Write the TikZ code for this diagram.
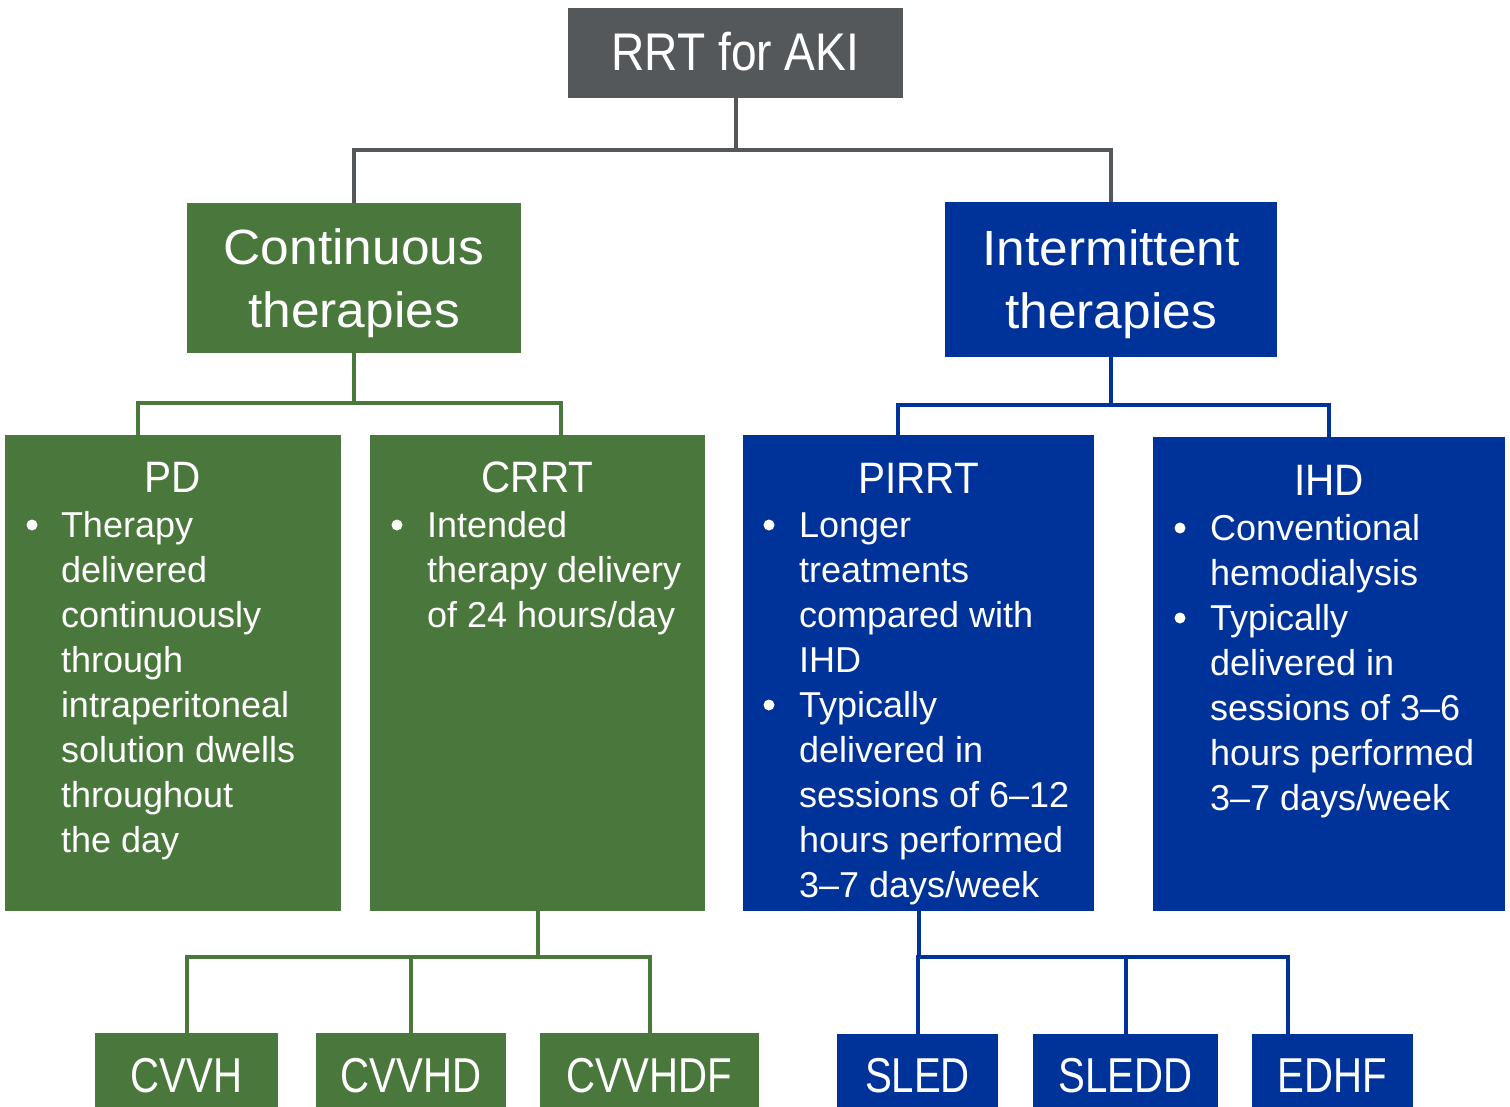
\documentclass[tikz,border=0pt]{standalone}
\usepackage{fontspec}
\setmainfont{Liberation Sans}
\newfontfamily\hdfont[FakeStretch=0.92]{Liberation Sans}
\newfontfamily\topfont[FakeStretch=0.87]{Liberation Sans}
\newfontfamily\grpfont[FakeStretch=1.04]{Liberation Sans}
\newfontfamily\leaffont[FakeStretch=0.82]{Liberation Sans}
\newcommand\stacklines[1]{\begin{tabular}[t]{@{}l@{}}#1\end{tabular}}
\newcommand\stackcenter[1]{\begin{tabular}[t]{@{}c@{}}#1\end{tabular}}
\definecolor{rrtgray}{HTML}{55585B}
\definecolor{rrtgreen}{HTML}{4A773C}
\definecolor{rrtblue}{HTML}{003399}

\begin{document}
\begin{tikzpicture}[x=1pt,y=-1pt,
  box/.style={rectangle, draw=none, inner sep=0pt, outer sep=0pt, anchor=north west},
  graybox/.style={box, fill=rrtgray},
  greenbox/.style={box, fill=rrtgreen},
  bluebox/.style={box, fill=rrtblue},
  wtext/.style={text=white, inner sep=0pt, outer sep=0pt},
  toptext/.style={wtext, anchor=base, font=\topfont\fontsize{53}{60}\selectfont},
  grptext/.style={wtext, anchor=base, font=\grpfont\fontsize{49.5}{63}\selectfont},
  headtext/.style={wtext, anchor=base, font=\hdfont\fontsize{44}{50}\selectfont},
  bodytext/.style={wtext, anchor=base west, font=\fontsize{36}{45}\selectfont},
  leaftext/.style={wtext, anchor=base, font=\leaffont\fontsize{49}{56}\selectfont},
  dot/.style={circle, fill=white, draw=none, minimum size=11pt, inner sep=0pt},
  link/.style={line width=4pt},
  graylink/.style={link, draw=rrtgray},
  greenlink/.style={link, draw=rrtgreen},
  bluelink/.style={link, draw=rrtblue}]

\fill[white] (0,0) rectangle (1510,1107);
\useasboundingbox (0,0) rectangle (1510,1107);

% root and the two families of therapy
\node[graybox, minimum width=335pt, minimum height=90pt] (top) at (568,8) {};
\node[greenbox, minimum width=334pt, minimum height=150pt] (cont) at (187,203) {};
\node[bluebox, minimum width=332pt, minimum height=155pt] (inter) at (945,202) {};

% modalities
\node[greenbox, minimum width=336pt, minimum height=476pt] (pd) at (5,435) {};
\node[greenbox, minimum width=335pt, minimum height=476pt] (crrt) at (370,435) {};
\node[bluebox, minimum width=351pt, minimum height=476pt] (pirrt) at (743,435) {};
\node[bluebox, minimum width=352pt, minimum height=474pt] (ihd) at (1153,437) {};

% variants
\node[greenbox, minimum width=183pt, minimum height=74pt] (cvvh) at (95,1033) {};
\node[greenbox, minimum width=190pt, minimum height=74pt] (cvvhd) at (316,1033) {};
\node[greenbox, minimum width=219pt, minimum height=74pt] (cvvhdf) at (540,1033) {};
\node[bluebox, minimum width=161pt, minimum height=73pt] (sled) at (837,1034) {};
\node[bluebox, minimum width=185pt, minimum height=73pt] (sledd) at (1033,1034) {};
\node[bluebox, minimum width=161pt, minimum height=73pt] (edhf) at (1252,1034) {};

% tree connectors
\draw[graylink] (top.south) -- ++(0,52) coordinate (jt);
\draw[graylink] (jt) -| (cont.north);
\draw[graylink] (jt) -| (inter.north);

\draw[greenlink] (cont.south) -- ++(0,50) coordinate (jc);
\draw[greenlink] (jc) -| ([xshift=-35pt]pd.north);
\draw[greenlink] (jc) -| ([xshift=23.5pt]crrt.north);

\draw[bluelink] (inter.south) -- ++(0,48) coordinate (ji);
\draw[bluelink] (ji) -| ([xshift=-20.5pt]pirrt.north);
\draw[bluelink] (ji) -| (ihd.north);

\draw[greenlink] (crrt.south) -- ++(0,46) coordinate (jr);
\draw[greenlink] (jr) -| (cvvh.north);
\draw[greenlink] (jr) -| (cvvhd.north);
\draw[greenlink] (jr) -| (cvvhdf.north);

\draw[bluelink] (pirrt.south) -- ++(0,46) coordinate (jp);
\draw[bluelink] (jp) -| (sled.north);
\draw[bluelink] (jp) -| (sledd.north);
\draw[bluelink] (jp) -| ([xshift=-44.5pt]edhf.north);

% titles
\node[toptext] (toptxt) at (735.5,71) {RRT for AKI};
\node[grptext] (conttxt) at (354,265) {\stackcenter{Continuous\\therapies}};
\node[grptext] (intertxt) at (1111,266) {\stackcenter{Intermittent\\therapies}};

\node[headtext] (pdhead) at (173,492) {PD};
\node[headtext] (crrthead) at (537.5,492) {CRRT};
\node[headtext] (pirrthead) at (918.5,493) {PIRRT};
\node[headtext] (ihdhead) at (1329,495) {IHD};

% bullet lists
\node[dot] (pddot) at (32,525) {};
\node[bodytext] (pdtxt) at (61,537) {\stacklines{Therapy\\delivered\\continuously\\through\\intraperitoneal\\solution dwells\\throughout\\the day}};

\node[dot] (crrtdot) at (397,525) {};
\node[bodytext] (crrttxt) at (427,537) {\stacklines{Intended\\therapy delivery\\of 24 hours/day}};

\node[dot] (pirrtdota) at (769,525) {};
\node[bodytext] (pirrttxta) at (799,537) {\stacklines{Longer\\treatments\\compared with\\IHD}};
\node[dot] (pirrtdotb) at (769,705) {};
\node[bodytext] (pirrttxtb) at (799,717) {\stacklines{Typically\\delivered in\\sessions of 6–12\\hours performed\\3–7 days/week}};

\node[dot] (ihddota) at (1180,528) {};
\node[bodytext] (ihdtxta) at (1210,540) {\stacklines{Conventional\\hemodialysis}};
\node[dot] (ihddotb) at (1180,618) {};
\node[bodytext] (ihdtxtb) at (1210,630) {\stacklines{Typically\\delivered in\\sessions of 3–6\\hours performed\\3–7 days/week}};

% variant labels
\node[leaftext] (cvvhtxt) at (186.5,1092) {CVVH};
\node[leaftext] (cvvhdtxt) at (411,1092) {CVVHD};
\node[leaftext] (cvvhdftxt) at (649.5,1092) {CVVHDF};
\node[leaftext] (sledtxt) at (917.5,1092) {SLED};
\node[leaftext] (sleddtxt) at (1125.5,1092) {SLEDD};
\node[leaftext] (edhftxt) at (1332.5,1092) {EDHF};

\end{tikzpicture}
\end{document}
